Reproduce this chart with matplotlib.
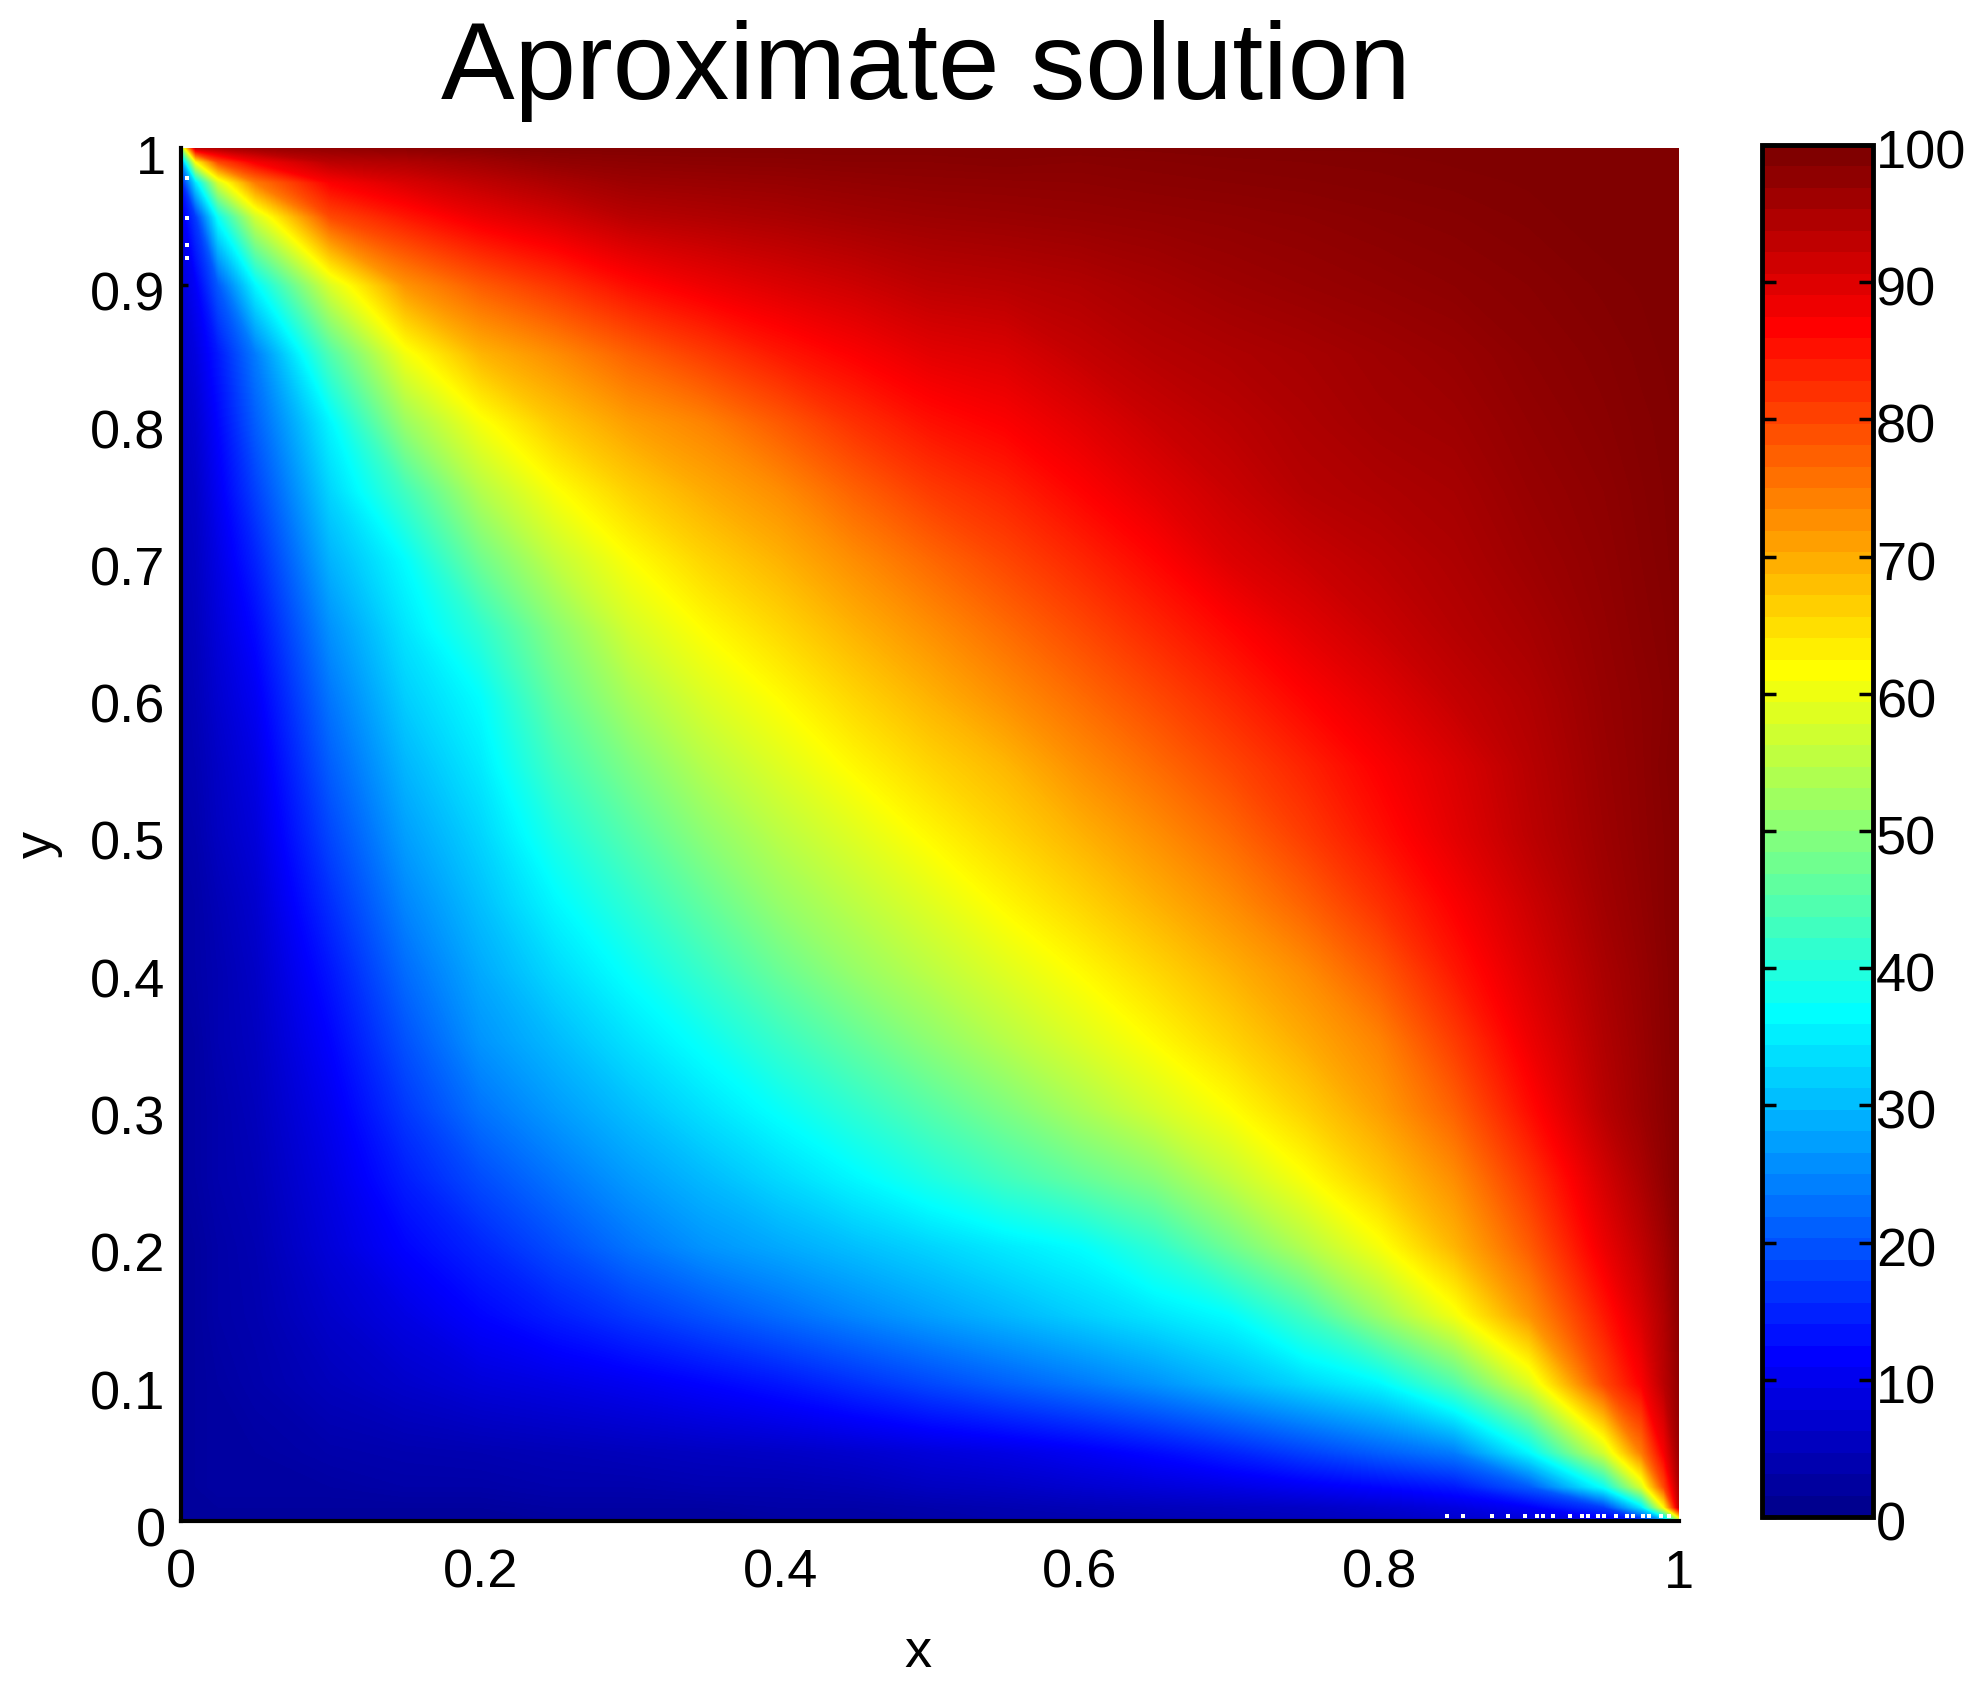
import numpy as np
import matplotlib
matplotlib.use("Agg")
import matplotlib.pyplot as plt
from matplotlib.cm import ScalarMappable
from matplotlib.colors import ListedColormap, LinearSegmentedColormap, Normalize
from matplotlib.transforms import ScaledTranslation

plt.rcParams['font.family'] = ['Liberation Sans', 'DejaVu Sans']

grid = [0, .01, .025, .05, .1, .15, .2, .25, .3, .35, .4, .45, .5, .55, .6, .65,
        .7, .75, .8, .85, .9, .95, .975, .99, 1]

# The field is symmetric in x and y: each row starts on the diagonal of the grid.
upper_rows = [
    [1.5, 1.5, 1.5, 1.5, 1.5, 1.5, 1.5, 1.5, 1.5, 2, 2, 2.5, 2.5, 3, 3, 3.5, 4, 4.5, 5, 6, 7, 9, 13, 25, 50],
    [1.5, 1.5, 1.5, 1.5, 1.5, 1.5, 2, 2, 2, 2.5, 2.5, 3, 3.5, 4, 4.5, 5, 5.5, 6.5, 8, 10.5, 17, 34, 62, 93],
    [2, 2, 2, 2.5, 2.5, 3, 3, 3.5, 3.5, 4, 5, 5.5, 6.5, 7.5, 8.5, 10, 11.5, 13.5, 20, 37.5, 58, 80, 95],
    [2, 2.8, 3.2, 3.5, 4, 4.5, 5, 5.5, 6.3, 7.5, 8.5, 10, 12, 14.5, 17.5, 20.5, 23.5, 35.9, 57.5, 75, 88, 97],
    [4.5, 6, 7.5, 8.5, 9.7, 11.3, 13.2, 15.7, 18.2, 20.6, 23, 25.7, 29, 32.4, 35.8, 44.5, 58.3, 80, 87.5, 94, 98],
    [8.5, 11.4, 14, 16.7, 19.3, 21.9, 24.5, 27, 29.3, 31.7, 34, 36.5, 42.9, 51.8, 60.7, 72.5, 85, 91, 95, 98.5],
    [14.8, 18.7, 22.7, 25.9, 28, 30.2, 32.3, 34.5, 36.6, 41, 47.5, 54.2, 61, 69.2, 78.1, 89, 93.5, 96.5, 99],
    [22.8, 26.6, 29.7, 32.8, 35.9, 39.3, 42.9, 46.4, 50, 55.7, 61.4, 67.3, 73.2, 82, 91.5, 95.5, 98, 99.5],
    [30.2, 33.7, 37.2, 41, 45, 49, 53.3, 57.5, 61.7, 66.5, 71.5, 77.6, 86.1, 94.2, 97, 98.5, 99.5],
    [37.5, 42, 46.3, 50.5, 54.5, 58.3, 62.1, 66.1, 70.2, 74.2, 81.3, 88.8, 95, 97.3, 98.7, 99.5],
    [47, 51.4, 55, 58.6, 62.1, 65.8, 69.5, 73.2, 78.3, 84.9, 90.7, 95.7, 97.6, 98.8, 99.5],
    [55.1, 58.7, 62.5, 66, 69.6, 73.2, 77.5, 82.5, 87.5, 92.2, 96.5, 98, 99, 99.5],
    [62.5, 66, 69.5, 73, 76.8, 81.3, 85.7, 89.9, 93.8, 97, 98.3, 99, 99.5],
    [69, 73, 76.5, 80.2, 83.8, 87.5, 90.8, 94.3, 97.3, 98.4, 99.2, 99.5],
    [76.5, 80, 83.5, 87, 90, 93, 95, 97.6, 98.5, 99, 99.5],
    [83.5, 86.8, 90, 92.5, 94.5, 96, 97.9, 98.8, 99.2, 99.6],
    [90.5, 92.5, 94, 95.3, 96.9, 98.2, 99, 99.4, 99.7],
    [94.5, 95.3, 96, 97.5, 98.5, 99.2, 99.5, 99.8],
    [96.3, 96.8, 98, 98.9, 99.4, 99.6, 99.8],
    [97.5, 98.5, 99.2, 99.6, 99.8, 99.9],
    [99, 99.6, 99.8, 100, 100],
    [100, 100, 100, 100],
    [100, 100, 100],
    [100, 100],
    [100],
]

y_ticks = [0, 0.1, 0.2, 0.3, 0.4, 0.5, 0.6, 0.7, 0.8, 0.9, 1]
y_labels = ['0', '0.1', '0.2', '0.3', '0.4', '0.5', '0.6', '0.7', '0.8', '0.9', '1']
x_ticks = [0, 0.2, 0.4, 0.6, 0.8, 1]
x_labels = ['0', '0.2', '0.4', '0.6', '0.8', '1']
cbar_ticks = [0, 10, 20, 30, 40, 50, 60, 70, 80, 90, 100]

speck_left_y = [0.978, 0.949, 0.929, 0.920]
speck_bottom_x = [0.845, 0.856, 0.875, 0.886, 0.897, 0.905, 0.909, 0.916, 0.927, 0.935, 0.939,
                  0.946, 0.950, 0.958, 0.965, 0.969, 0.976, 0.980, 0.988, 0.993]

n = len(grid)
solution = np.zeros((n, n))
for i, row in enumerate(upper_rows):
    solution[i, i:] = row
    solution[i:, i] = row

# MATLAB-style 64 step jet for the colour bar, a smooth version of it for the field
t = np.arange(1, 65) / 64
jet_rgb = np.clip(np.column_stack([
    np.minimum(4 * t - 1.5, -4 * t + 4.5),
    np.minimum(4 * t - 0.5, -4 * t + 3.5),
    np.minimum(4 * t + 0.5, -4 * t + 2.5)]), 0, 1)
jet64 = ListedColormap(jet_rgb)
jet_smooth = LinearSegmentedColormap.from_list('jet_smooth', jet_rgb, N=400)

W, H = 1982, 1691
fig = plt.figure(figsize=(W / 100, H / 100), dpi=100)
ax = fig.add_axes([181 / W, 1 - 1521 / H, (1679 - 181) / W, (1521 - 148) / H])

levels = np.linspace(0, 100, 401)
ax.contourf(grid, grid, solution, levels=levels, cmap=jet_smooth, vmin=0, vmax=100,
            antialiased=False)
ax.set_xlim(0, 1)
ax.set_ylim(0, 1)

ax.scatter([0.004] * len(speck_left_y), speck_left_y, s=9, marker='s', c='white',
           linewidths=0, zorder=3)
ax.scatter(speck_bottom_x, [0.004] * len(speck_bottom_x), s=9, marker='s', c='white',
           linewidths=0, zorder=3)

for s in ['top', 'right']:
    ax.spines[s].set_visible(False)
for s in ['left', 'bottom']:
    ax.spines[s].set_linewidth(3)

ax.set_xticks(x_ticks, x_labels)
ax.set_yticks(y_ticks, y_labels)
ax.tick_params(axis='x', length=0, labelsize=39, pad=20)
ax.tick_params(axis='y', length=0, labelsize=39, pad=11)
nine = ax.yaxis.get_major_ticks()[9].tick1line
nine.set_marker(matplotlib.markers.TICKRIGHT)
nine.set_markersize(5)
nine.set_markeredgewidth(2.5)
ax.set_title('Aproximate solution', fontsize=79.5, pad=35, x=0.497)
ax.set_xlabel('x', fontsize=39, labelpad=21, x=0.492)
ax.set_ylabel('y', fontsize=39, labelpad=20, y=0.493)

down = ScaledTranslation(0, -6 / 100, fig.dpi_scale_trans)
for lab in ax.get_yticklabels():
    lab.set_transform(lab.get_transform() + down)

cax = fig.add_axes([1762 / W, 1 - 1517 / H, (1873 - 1762) / W, (1517 - 145) / H])
cb = fig.colorbar(ScalarMappable(norm=Normalize(0, 100), cmap=jet64), cax=cax, ticks=cbar_ticks)
cb.outline.set_linewidth(3.5)
cb.set_ticklabels([str(v) for v in cbar_ticks])
cax.minorticks_off()
cax.tick_params(axis='y', direction='in', length=10, width=2.5, labelsize=39, pad=2,
                left=True, right=True)
cdown = ScaledTranslation(0, -4 / 100, fig.dpi_scale_trans)
for lab in cax.get_yticklabels():
    lab.set_transform(lab.get_transform() + cdown)

fig.savefig('out.png', dpi=100)
